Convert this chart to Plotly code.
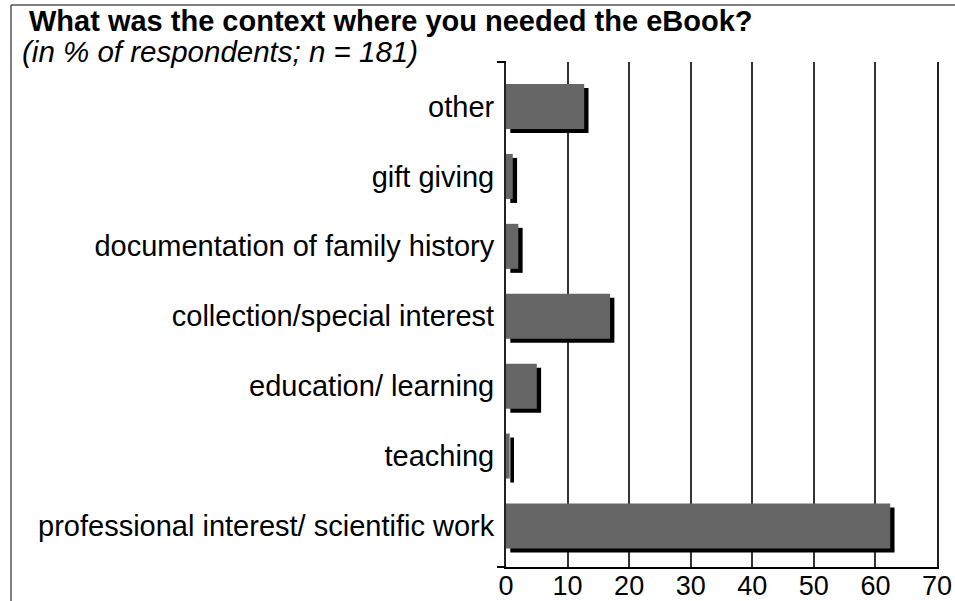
import plotly.graph_objects as go

categories = [
    "professional interest/ scientific work",
    "teaching",
    "education/ learning",
    "collection/special interest",
    "documentation of family history",
    "gift giving",
    "other",
]
percent = [62.4, 0.6, 5.0, 16.9, 2.0, 1.1, 12.7]

FONT = "Liberation Sans, Arial, sans-serif"
W, H = 955, 601
L, R, T, B = 506, 18, 62, 34
pw, ph = W - L - R, H - T - B


def px_x(x):
    return (x - L) / pw


def px_y(y):
    return (H - B - y) / ph


bar_w = 0.644
fig = go.Figure()
# schatten hinter dem balken
fig.add_trace(go.Bar(
    y=categories, x=percent, base=0.7, orientation="h",
    width=bar_w, offset=-bar_w / 2 - 0.057,
    marker=dict(color="#000000", line=dict(width=0)),
    hoverinfo="skip", showlegend=False,
))
fig.add_trace(go.Bar(
    y=categories, x=percent, orientation="h",
    width=bar_w, offset=-bar_w / 2,
    marker=dict(color="#666666", line=dict(width=0)),
    showlegend=False,
))

fig.update_xaxes(
    range=[0, 70], dtick=10, tick0=0, automargin=False,
    showgrid=True, gridcolor="#333333", gridwidth=1.5,
    showline=True, linecolor="#000000", linewidth=2,
    zeroline=False, ticks="", ticklabelstandoff=-6,
    tickfont=dict(family=FONT, size=27, color="#000000"),
)
fig.update_yaxes(
    range=[-0.587, 6.637], type="category", automargin=False,
    showgrid=False, showline=True, mirror=True,
    linecolor="#222222", linewidth=2, ticks="",
    ticklabelstandoff=4,
    tickfont=dict(family=FONT, size=29, color="#000000"),
)

shapes = [
    # kleine Striche links am Achsenende
    dict(type="line", xref="paper", yref="paper", x0=px_x(497), x1=0, y0=1, y1=1,
         line=dict(color="#000000", width=2)),
    dict(type="line", xref="paper", yref="paper", x0=px_x(497), x1=0, y0=0, y1=0,
         line=dict(color="#000000", width=2)),
    # Rahmen oben/links
    dict(type="line", xref="paper", yref="paper", x0=px_x(11), x1=px_x(956),
         y0=px_y(5), y1=px_y(5), line=dict(color="#555555", width=1.5)),
    dict(type="line", xref="paper", yref="paper", x0=px_x(11), x1=px_x(11),
         y0=px_y(5), y1=px_y(602), line=dict(color="#555555", width=1.5)),
]

annotations = [
    dict(text="<b>What was the context where you needed the eBook?</b>",
         xref="paper", yref="paper", x=px_x(27), y=px_y(21),
         xanchor="left", yanchor="middle", showarrow=False,
         font=dict(family=FONT, size=29, color="#000000")),
    dict(text="<i>(in % of respondents; n = 181)</i>",
         xref="paper", yref="paper", x=px_x(20), y=px_y(52),
         xanchor="left", yanchor="middle", showarrow=False,
         font=dict(family=FONT, size=29.5, color="#000000")),
]

fig.update_layout(
    width=W, height=H,
    margin=dict(l=L, r=R, t=T, b=B),
    barmode="overlay", bargap=0.36,
    plot_bgcolor="white", paper_bgcolor="white",
    shapes=shapes, annotations=annotations,
)

# body-Rand weg, damit die Grafik bei (0,0) anfaengt
fig.write_html(
    "out.html",
    config={"displayModeBar": False},
    post_script="document.body.style.margin='0';",
)
